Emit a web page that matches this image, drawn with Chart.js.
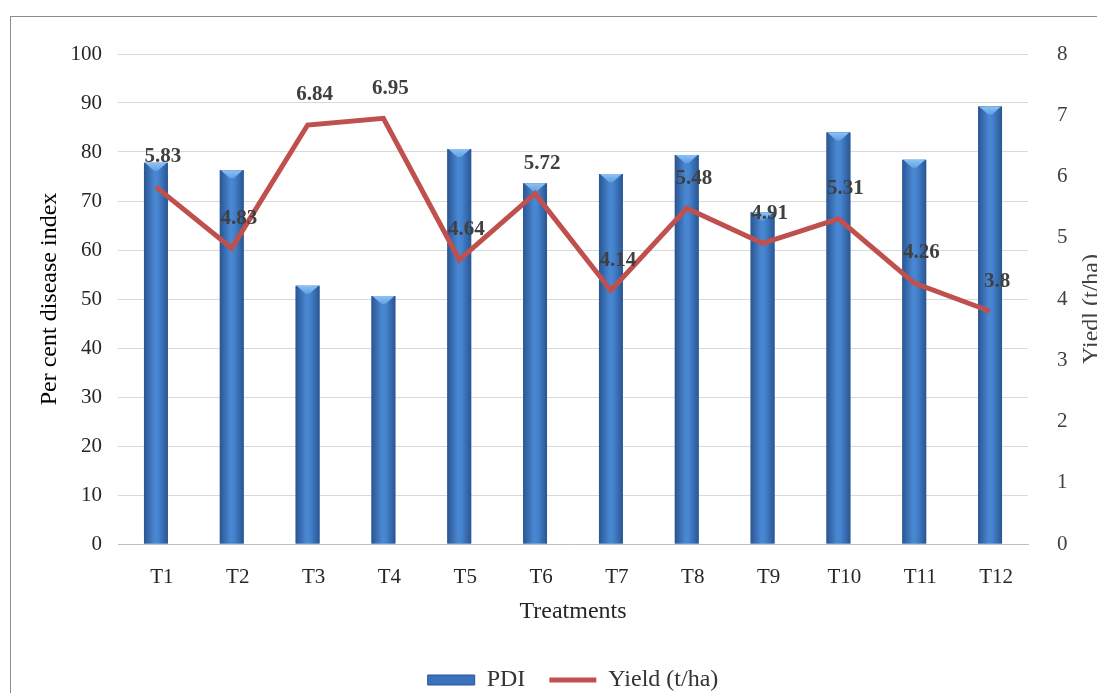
<!DOCTYPE html>
<html>
<head>
<meta charset="utf-8">
<script src="https://cdn.jsdelivr.net/npm/chart.js@4/dist/chart.umd.min.js"></script>
<style>
  html, body { margin: 0; padding: 0; background: #ffffff; overflow: hidden; }
  #wrap { position: relative; width: 1097px; height: 693px; }
  #frame { position: absolute; left: 10px; top: 16px; width: 1200px; height: 800px;
           border-left: 1px solid #8c8c8c; border-top: 1px solid #8c8c8c; }
  canvas { position: absolute; left: 0; top: 0; }
</style>
</head>
<body>
<div id="wrap">
  <div id="frame"></div>
  <canvas id="c" width="1097" height="693"></canvas>
</div>
<script>
const categories = ["T1","T2","T3","T4","T5","T6","T7","T8","T9","T10","T11","T12"];
const pdiValues = [77.8, 76.3, 52.7, 50.6, 80.6, 73.6, 75.5, 79.4, 67.7, 84.0, 78.4, 89.3];
const yieldValues = [5.83, 4.83, 6.84, 6.95, 4.64, 5.72, 4.14, 5.48, 4.91, 5.31, 4.26, 3.8];
const leftTicks = [0,10,20,30,40,50,60,70,80,90,100];
const rightTicks = [0,1,2,3,4,5,6,7,8];

const SERIF = "'Liberation Serif', 'Times New Roman', serif";

const barStylePlugin = {
  id: 'barStyle',
  afterDatasetDraw(chart, args) {
    if (args.index !== 0) return;
    const ctx = chart.ctx;
    const meta = chart.getDatasetMeta(0);
    meta.data.forEach(el => {
      const w = el.width, l = el.x - w/2, r = el.x + w/2, top = el.y, base = el.base;
      const g = ctx.createLinearGradient(l, 0, r, 0);
      g.addColorStop(0, '#2a5592');
      g.addColorStop(0.45, '#4a88d3');
      g.addColorStop(0.6, '#4583cf');
      g.addColorStop(1, '#2a5592');
      ctx.save();
      ctx.fillStyle = g;
      ctx.fillRect(l, top, w, base - top);
      const g2 = ctx.createLinearGradient(0, top, 0, top + 9);
      g2.addColorStop(0, '#8cc2f5');
      g2.addColorStop(1, '#5d9be0');
      ctx.fillStyle = g2;
      ctx.beginPath();
      ctx.moveTo(l + 1, top);
      ctx.lineTo(r - 1, top);
      ctx.lineTo(el.x + 2, top + 8);
      ctx.lineTo(el.x - 2, top + 8);
      ctx.closePath();
      ctx.fill();
      ctx.restore();
    });
  }
};

const labelsPlugin = {
  id: 'lineLabels',
  afterDatasetsDraw(chart) {
    const ctx = chart.ctx;
    const meta = chart.getDatasetMeta(1);
    ctx.save();
    ctx.font = "bold 21px " + SERIF;
    ctx.fillStyle = '#404040';
    ctx.textAlign = 'center';
    ctx.textBaseline = 'middle';
    meta.data.forEach((pt, i) => {
      ctx.fillText(String(yieldValues[i]), pt.x + 7, pt.y - 30);
    });
    ctx.font = "24px " + SERIF;
    ctx.fillStyle = '#404040';
    ctx.translate(1092, 309);
    ctx.rotate(-Math.PI / 2);
    ctx.fillText('Yiedl (t/ha)', 0, 0);
    ctx.restore();
  }
};

new Chart(document.getElementById('c'), {
  data: {
    labels: categories,
    datasets: [
      {
        type: 'bar',
        label: 'PDI',
        data: pdiValues,
        backgroundColor: '#3a72bd',
        borderWidth: 0,
        barPercentage: 0.9,
        categoryPercentage: 0.35,
        yAxisID: 'y',
        order: 2
      },
      {
        type: 'line',
        label: 'Yield (t/ha)',
        data: yieldValues,
        borderColor: '#c0504d',
        backgroundColor: '#c0504d',
        borderWidth: 5,
        pointRadius: 0,
        tension: 0,
        yAxisID: 'y1',
        order: 1
      }
    ]
  },
  options: {
    responsive: false,
    animation: false,
    layout: { padding: { top: 54, left: 0, right: 0, bottom: -9 } },
    plugins: {
      tooltip: { enabled: false },
      legend: {
        position: 'bottom',
        fullSize: false,
        labels: {
          font: { family: SERIF, size: 24 },
          color: '#333333',
          usePointStyle: true,
          pointStyleWidth: 47,
          boxHeight: 10,
          padding: 24,
          generateLabels(chart) {
            return [
              { text: 'PDI', fillStyle: '#3a72bd', strokeStyle: '#2a5592', lineWidth: 1,
                pointStyle: 'rect', datasetIndex: 0, fontColor: '#333333' },
              { text: 'Yield (t/ha)', fillStyle: '#c0504d', strokeStyle: '#c0504d', lineWidth: 5,
                pointStyle: 'line', datasetIndex: 1, fontColor: '#333333' }
            ];
          }
        }
      }
    },
    scales: {
      x: {
        grid: { display: false },
        border: { display: true, color: '#bfbfbf', width: 1 },
        ticks: { font: { family: SERIF, size: 21 }, color: '#262626', padding: 13, labelOffset: 6 },
        title: { display: true, text: 'Treatments', font: { family: SERIF, size: 24 }, color: '#262626', padding: { top: 4, bottom: 18 } },
        afterFit(s) { s.height = 100; }
      },
      y: {
        position: 'left',
        min: 0, max: 100,
        afterBuildTicks(s) { s.ticks = leftTicks.map(v => ({ value: v })); },
        grid: { color: '#d9d9d9', drawTicks: false },
        border: { display: false },
        ticks: { font: { family: SERIF, size: 21 }, color: '#262626', padding: 16 },
        title: { display: true, text: 'Per cent disease index', font: { family: SERIF, size: 24 }, color: '#000000', padding: { top: 35, bottom: 0 } },
        afterFit(s) { s.width = 118; }
      },
      y1: {
        position: 'right',
        min: 0, max: 8,
        afterBuildTicks(s) { s.ticks = rightTicks.map(v => ({ value: v })); },
        grid: { display: false, drawTicks: false },
        border: { display: false },
        ticks: { font: { family: SERIF, size: 21 }, color: '#404040', padding: 29 },
        afterFit(s) { s.width = 69; }
      }
    }
  },
  plugins: [barStylePlugin, labelsPlugin]
});
</script>
</body>
</html>
